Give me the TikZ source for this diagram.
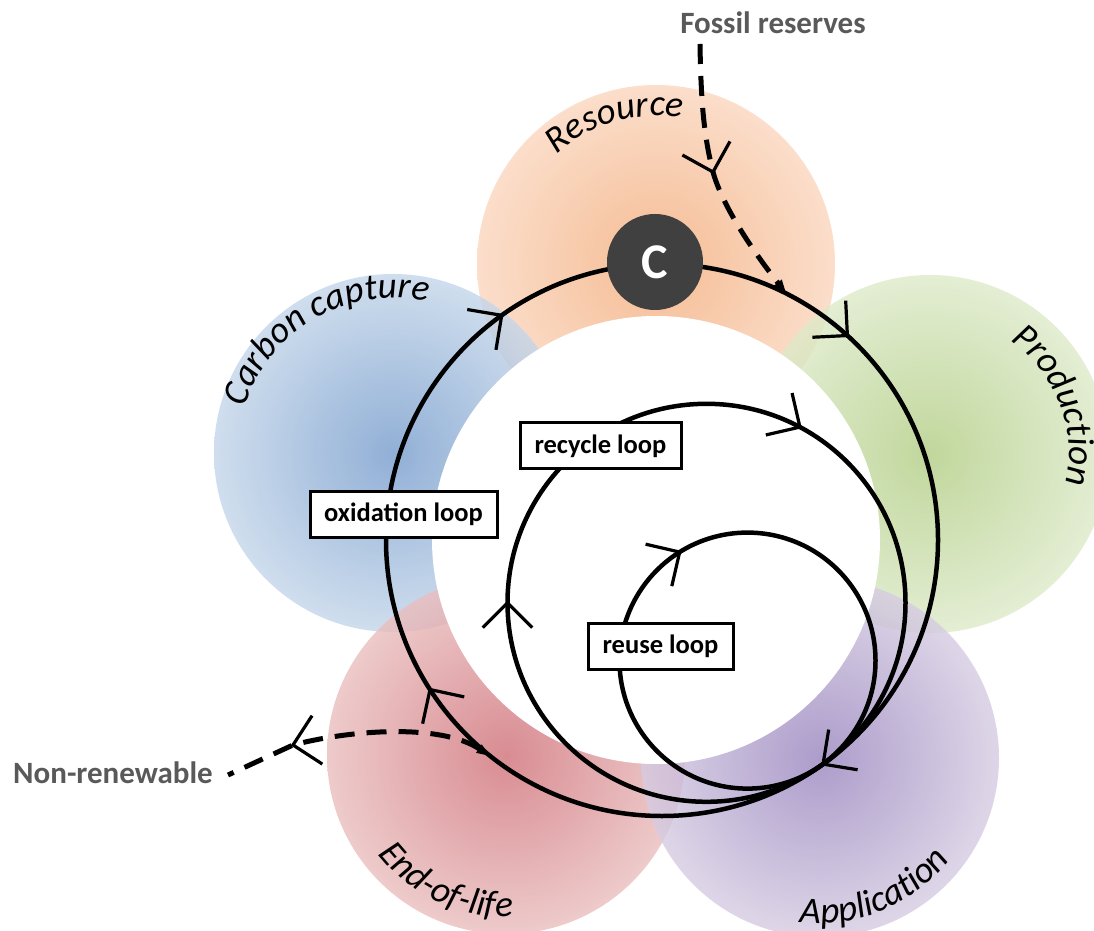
\documentclass[tikz,border=0pt]{standalone}
\usepackage{fontspec}
\setmainfont{Carlito}
\usetikzlibrary{calc,decorations.text,arrows.meta}

\definecolor{orE}{RGB}{250,214,190}
\definecolor{orC}{RGB}{244,172,122}
\definecolor{grE}{RGB}{221,234,201}
\definecolor{grC}{RGB}{178,205,132}
\definecolor{blE}{RGB}{196,214,234}
\definecolor{blC}{RGB}{118,156,204}
\definecolor{rdE}{RGB}{234,190,190}
\definecolor{rdC}{RGB}{207,112,120}
\definecolor{puE}{RGB}{214,204,226}
\definecolor{puC}{RGB}{152,132,190}
\definecolor{cgray}{RGB}{64,64,64}
\definecolor{lblgray}{RGB}{89,89,89}

\newcommand{\arclab}{\fontsize{37}{39}\selectfont\itshape}
\newcommand{\barbs}[2]{%
  \draw[barb] ($(#1)+({#2+135}:35)$) -- (#1) -- ($(#1)+({#2-135}:35)$);}

\begin{document}
\begin{tikzpicture}[x=1pt,y=1pt,
  loopline/.style={line width=4.5pt, draw=black},
  barb/.style={line width=3.2pt, draw=black},
  flowdash/.style={line width=5pt, draw=black, dash pattern=on 20pt off 12pt},
  tag/.style={draw=black, line width=3pt, fill=white, inner sep=0pt,
    minimum height=46pt, font=\fontsize{26.5}{29}\selectfont\bfseries},
  outside/.style={font=\fontsize{31}{34}\selectfont\bfseries, text=lblgray},
  arctext/.style={decorate, decoration={text along path, text align=center}}]

\useasboundingbox (0,0) rectangle (1094,930);
\fill[white] (0,0) rectangle (1094,930);

% disc centres
\coordinate (dRes) at (656,666);
\coordinate (dPro) at (930,476);
\coordinate (dCap) at (393,477);
\coordinate (dEnd) at (506,175);
\coordinate (dApp) at (820,172);

\begin{scope}[opacity=0.8]
  \shade[inner color=orC, outer color=orE] (dRes) circle[radius=179pt];
  \shade[inner color=grC, outer color=grE] (dPro) circle[radius=179pt];
  \shade[inner color=blC, outer color=blE] (dCap) circle[radius=179pt];
  \shade[inner color=rdC, outer color=rdE] (dEnd) circle[radius=179pt];
  \shade[inner color=puC, outer color=puE] (dApp) circle[radius=179pt];
\end{scope}

% white centre
\fill[white] (656,390) circle[radius=224pt];

% curved labels
\path[arctext, decoration={text={|\arclab|Resource}}]
  ($(dRes)+(171:148)$) arc[start angle=171, end angle=41, radius=148pt];
\path[arctext, decoration={text={|\arclab|Carbon capture}}]
  ($(dCap)+(200:155)$) arc[start angle=200, end angle=40, radius=155pt];
\path[arctext, decoration={text={|\arclab|Production}}]
  ($(dPro)+(90:139)$) arc[start angle=90, end angle=-48, radius=139pt];
\path[arctext, decoration={text={|\arclab|End-of-life}}]
  ($(dEnd)+(185:162)$) arc[start angle=185, end angle=305, radius=162pt];
\path[arctext, decoration={text={|\arclab|Application}}]
  ($(dApp)+(225:165)$) arc[start angle=225, end angle=360, radius=165pt];

% loops
\coordinate (O) at (662,390);
\coordinate (Rc) at (706.5,327.2);
\coordinate (Uc) at (747.5,269.4);
\draw[loopline] (O) circle[radius=276pt];
\draw[loopline] (Rc) circle[radius=199pt];
\draw[loopline] (Uc) circle[radius=128pt];

% arrowheads on loops (clockwise)
\coordinate (o1) at ($(O)+(125.5:276)$);
\coordinate (o2) at ($(O)+(47.8:276)$);
\coordinate (o3) at ($(O)+(-54.3:276)$);
\coordinate (o4) at ($(O)+(212.8:276)$);
\coordinate (r1) at ($(Rc)+(62:199)$);
\coordinate (r2) at ($(Rc)+(180:199)$);
\coordinate (u1) at ($(Uc)+(122:128)$);
\barbs{o1}{35.5}
\barbs{o2}{-42.2}
\barbs{o3}{-144.3}
\barbs{o4}{122.8}
\barbs{r1}{-32}
\barbs{r2}{90}
\barbs{u1}{32}

% text nodes
\node[outside] (fossil) at (773,907) {Fossil reserves};
\node[outside] (nonren) at (113,157) {Non-renewable};

% dashed flows
\coordinate (fs) at (700,886);
\coordinate (fa) at (713,758);
\coordinate (fe) at ($(O)+(63.2:276)$);
\draw[flowdash, -{Triangle[length=14pt,width=9pt]}]
  (fs) .. controls (701,820) and (705,790) .. (fa)
       .. controls (722,725) and (752,680) .. (fe);
\barbs{fa}{-74}

\coordinate (ns) at ($(O)+(231.6:276)$);
\coordinate (na) at (293,185);
\coordinate (ne) at (228,155);
\draw[flowdash, {Triangle[length=14pt,width=9pt]}-]
  (ns) .. controls (440,207) and (350,200) .. (na) -- (ne);
\barbs{na}{192}

% loop labels
\node[tag, minimum width=187pt] (ox) at (403.5,416) {oxidation loop};
\node[tag, minimum width=161pt] (rcl) at (600.5,484) {recycle loop};
\node[tag, minimum width=145pt] (rul) at (660.5,283.5) {reuse loop};

% carbon node
\node[circle, fill=cgray, minimum size=96pt, inner sep=0pt, text=white,
  font=\fontsize{50}{50}\selectfont\bfseries] (C) at (655,668) {C};

\end{tikzpicture}
\end{document}
